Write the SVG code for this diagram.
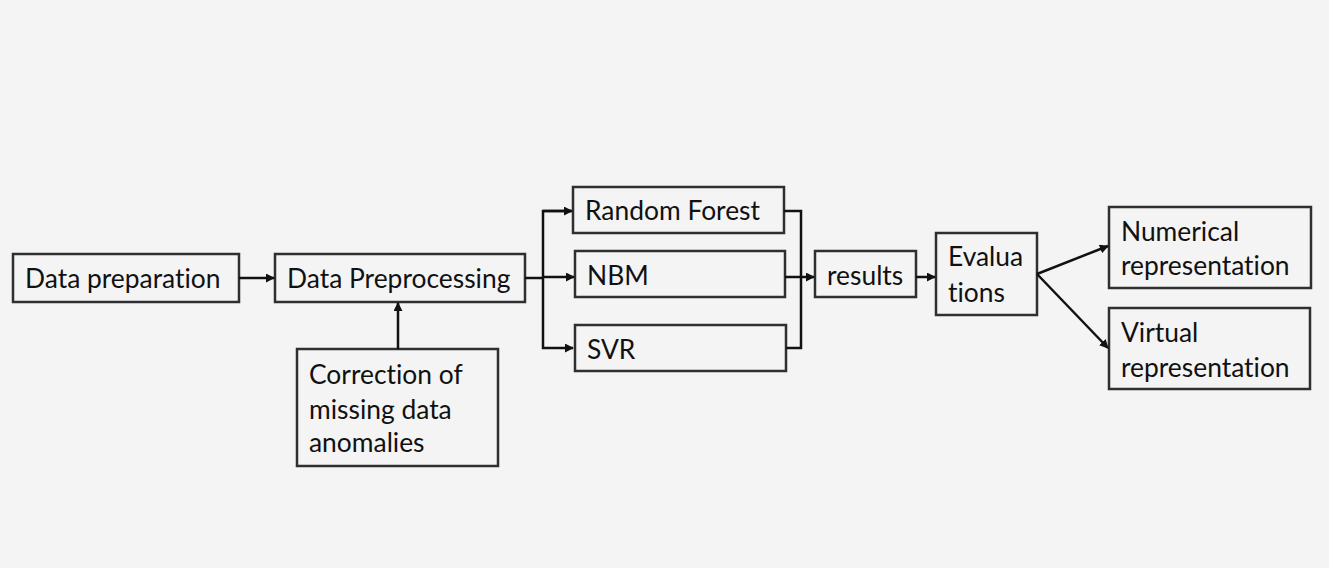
<svg xmlns="http://www.w3.org/2000/svg" width="1329" height="568" viewBox="0 0 1329 568">
<defs>
<marker id="ah" viewBox="0 0 10 10" refX="9" refY="5" markerWidth="9" markerHeight="9" markerUnits="userSpaceOnUse" orient="auto">
<path d="M0,0 L10,5 L0,10 z" fill="#111"/>
</marker>
<style>
.box{fill:#f4f4f4;stroke:#2f2f33;stroke-width:2.5}
.t{font-family:Lato,"Open Sans",sans-serif;font-size:26.4px;fill:#111;font-variant-ligatures:none}
.c{fill:none;stroke:#111;stroke-width:2.5}
</style>
</defs>
<rect width="1329" height="568" fill="#f4f4f4"/>
<g id="data-preparation"><rect class="box" x="13" y="254" width="226" height="48"/><text class="t" x="25" y="288">Data preparation</text></g>
<g id="data-preprocessing"><rect class="box" x="275" y="254" width="250" height="48"/><text class="t" x="287" y="288">Data Preprocessing</text></g>
<g id="correction"><rect class="box" x="297" y="349" width="201" height="117"/><text class="t" x="309" y="384">Correction of</text><text class="t" x="309" y="419">missing data</text><text class="t" x="309" y="452">anomalies</text></g>
<g id="random-forest"><rect class="box" x="573" y="187" width="211" height="46"/><text class="t" x="585" y="220">Random Forest</text></g>
<g id="nbm"><rect class="box" x="575" y="251" width="210" height="46"/><text class="t" x="587" y="285">NBM</text></g>
<g id="svr"><rect class="box" x="575" y="325" width="211" height="46"/><text class="t" x="587" y="359">SVR</text></g>
<g id="results"><rect class="box" x="815" y="251" width="101" height="46"/><text class="t" x="827" y="285">results</text></g>
<g id="evaluations"><rect class="box" x="936" y="233" width="101" height="82"/><text class="t" x="948" y="266">Evalua</text><text class="t" x="948" y="302">tions</text></g>
<g id="numerical"><rect class="box" x="1109" y="207" width="202" height="81"/><text class="t" x="1121" y="241">Numerical</text><text class="t" x="1121" y="275">representation</text></g>
<g id="virtual"><rect class="box" x="1109" y="308" width="201" height="81"/><text class="t" x="1121" y="342">Virtual</text><text class="t" x="1121" y="377">representation</text></g>
<g id="connectors">
<line class="c" x1="239" y1="278" x2="274" y2="278" marker-end="url(#ah)"/>
<line class="c" x1="398" y1="349" x2="398" y2="303" marker-end="url(#ah)"/>
<line class="c" x1="525" y1="278" x2="543" y2="278"/>
<polyline class="c" points="571,211 543,211 543,348 573,348" marker-end="url(#ah)"/>
<line class="c" x1="543" y1="211" x2="572" y2="211" marker-end="url(#ah)"/>
<line class="c" x1="543" y1="277" x2="574" y2="277" marker-end="url(#ah)"/>
<polyline class="c" points="784,211 801,211 801,348 786,348"/>
<line class="c" x1="785" y1="277" x2="814" y2="277" marker-end="url(#ah)"/>
<line class="c" x1="916" y1="277" x2="935" y2="277" marker-end="url(#ah)"/>
<line class="c" x1="1037" y1="274" x2="1108" y2="246" marker-end="url(#ah)"/>
<line class="c" x1="1037" y1="274" x2="1108" y2="348" marker-end="url(#ah)"/>
</g>
</svg>
